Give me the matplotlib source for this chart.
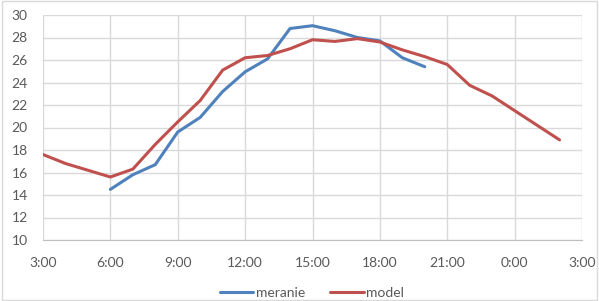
import matplotlib.pyplot as plt
from matplotlib.patches import Rectangle

# hodiny od 3:00 (3 .. 26 = 2:00 nasledujuci den)
hodiny_model = list(range(3, 27))
model = [17.6, 16.8, 16.2, 15.6, 16.3, 18.5, 20.5, 22.4, 25.1, 26.2, 26.4, 27.0,
         27.8, 27.65, 27.9, 27.6, 26.9, 26.3, 25.6, 23.75, 22.8, 21.5, 20.2, 18.9]

hodiny_meranie = list(range(6, 21))
meranie = [14.5, 15.8, 16.7, 19.6, 20.9, 23.2, 24.95, 26.1, 28.8, 29.05, 28.6,
           28.0, 27.7, 26.2, 25.4]

x_ticks = [3, 6, 9, 12, 15, 18, 21, 24, 27]
x_labels = ["3:00", "6:00", "9:00", "12:00", "15:00", "18:00", "21:00", "0:00", "3:00"]
y_ticks = list(range(10, 31, 2))

plt.rcParams['font.family'] = ['Lato', 'DejaVu Sans']

fig = plt.figure(figsize=(5.99, 3.01), dpi=100)
ax = fig.add_axes([43/599, 1-240/301, (582-43)/599, (240-15)/301])

ax.plot(hodiny_meranie, meranie, color='#4F81BD', lw=2.2, label='meranie',
        solid_capstyle='round')
ax.plot(hodiny_model, model, color='#C0504D', lw=2.2, label='model',
        solid_capstyle='round')

ax.set_xlim(3, 27)
ax.set_ylim(10, 30)
ax.set_xticks(x_ticks)
ax.set_xticklabels(x_labels)
ax.set_yticks(y_ticks)
ax.grid(True, color='#d9d9d9', lw=1)
ax.set_axisbelow(True)
for s in ['top', 'right', 'left']:
    ax.spines[s].set_visible(False)
ax.spines['bottom'].set_color('#bfbfbf')
ax.tick_params(length=0, labelsize=10, colors='#595959')
ax.tick_params(axis='x', pad=12)
ax.tick_params(axis='y', pad=11)

leg = fig.legend(loc='center', bbox_to_anchor=(312/599, 1-293/301), ncol=2, frameon=False,
                 fontsize=10, handlelength=2.4, columnspacing=1.8, handletextpad=0.2)
for t in leg.get_texts():
    t.set_color('#595959')

fig.patches.append(Rectangle((0.004, 0.004), 0.992, 0.992, transform=fig.transFigure,
                             fill=False, edgecolor='#d9d9d9', lw=1))

plt.savefig("out.png", dpi=100)
